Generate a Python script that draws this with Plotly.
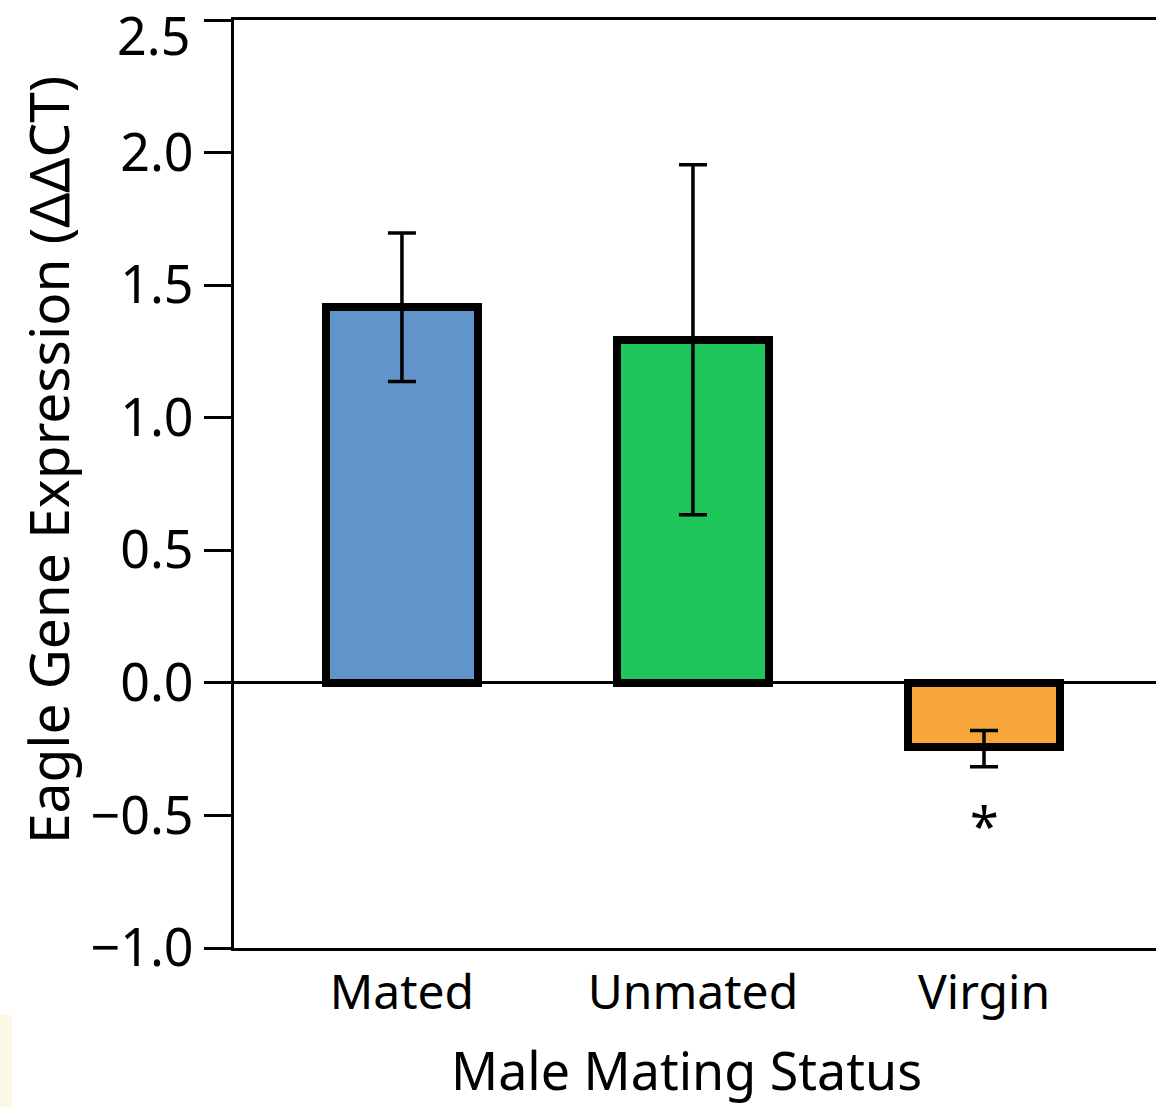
import plotly.graph_objects as go

categories = ["Mated", "Unmated", "Virgin"]
values = [1.417, 1.294, -0.243]
err_plus = [0.28, 0.66, 0.063]
err_minus = [0.28, 0.66, 0.073]
colors = ["#6194c9", "#1fc65b", "#f6a63a"]
ytick_vals = [-1.0, -0.5, 0.0, 0.5, 1.0, 1.5, 2.0, 2.5]
ytick_text = ["−1.0", "−0.5", "0.0", "0.5", "1.0", "1.5", "2.0", ""]
top_label = "2.5"
x_title = "Male Mating Status"
y_title = "Eagle Gene Expression (ΔΔCT)"
sig_label = "*"
sig_index = 2
sig_y = -0.535

FONT = "Noto Sans"
PW, PH = 922, 928  # plot-area size in px
xpos = list(range(len(categories)))

fig = go.Figure()
fig.add_trace(go.Bar(
    x=xpos, y=values, width=0.524,
    marker=dict(color=colors, line=dict(color="black", width=8)),
    error_y=dict(type="data", symmetric=False, array=err_plus, arrayminus=err_minus,
                 color="black", thickness=3.5, width=14),
    showlegend=False,
))

fig.add_annotation(x=xpos[sig_index], y=sig_y, text=sig_label, showarrow=False,
                   font=dict(family=FONT, size=52, color="black"),
                   xref="x", yref="y")

# top tick label nudged down, as in the original
fig.add_annotation(x=-42/PW, y=ytick_vals[-1], text=top_label, showarrow=False,
                   xref="paper", yref="y", xanchor="right", yanchor="middle",
                   yshift=-14, font=dict(family=FONT, size=52, color="black"))

# axis titles
fig.add_annotation(x=(686-234)/PW, y=(948-1069)/PH, text=x_title, showarrow=False,
                   xref="paper", yref="paper", xanchor="center", yanchor="middle",
                   font=dict(family=FONT, size=52, color="black"))
fig.add_annotation(x=(47-234)/PW, y=(948-460)/PH, text=y_title, showarrow=False,
                   textangle=-90,
                   xref="paper", yref="paper", xanchor="center", yanchor="middle",
                   font=dict(family=FONT, size=55, color="black"))

# faint pale strip at bottom-left of the original image
fig.add_shape(type="rect", xref="paper", yref="paper",
              x0=-234/PW, x1=-222/PW, y0=-159/PH, y1=-67/PH,
              fillcolor="#fbf8e4", line=dict(width=0), layer="below")

fig.update_layout(
    width=1156, height=1107,
    margin=dict(l=234, r=0, t=20, b=159),
    paper_bgcolor="white", plot_bgcolor="white",
    font=dict(family=FONT, size=48, color="black"),
    bargap=0,
    xaxis=dict(
        range=[-0.577, 2.591], automargin=False,
        tickvals=xpos, ticktext=categories,
        showline=True, linecolor="black", linewidth=3, mirror=True,
        ticks="", showgrid=False, zeroline=False,
        tickfont=dict(family=FONT, size=48),
    ),
    yaxis=dict(
        range=[-1.0, 2.5], automargin=False,
        tickvals=ytick_vals, ticktext=ytick_text,
        showline=True, linecolor="black", linewidth=3,
        ticks="outside", ticklen=27, tickwidth=3, tickcolor="black",
        ticklabeloverflow="allow",
        showgrid=False,
        zeroline=True, zerolinecolor="black", zerolinewidth=3,
        tickfont=dict(family=FONT, size=52),
    ),
)

fig.write_html("out.html", config={"displayModeBar": False},
               post_script="document.body.style.margin='0';document.body.style.padding='0';")
